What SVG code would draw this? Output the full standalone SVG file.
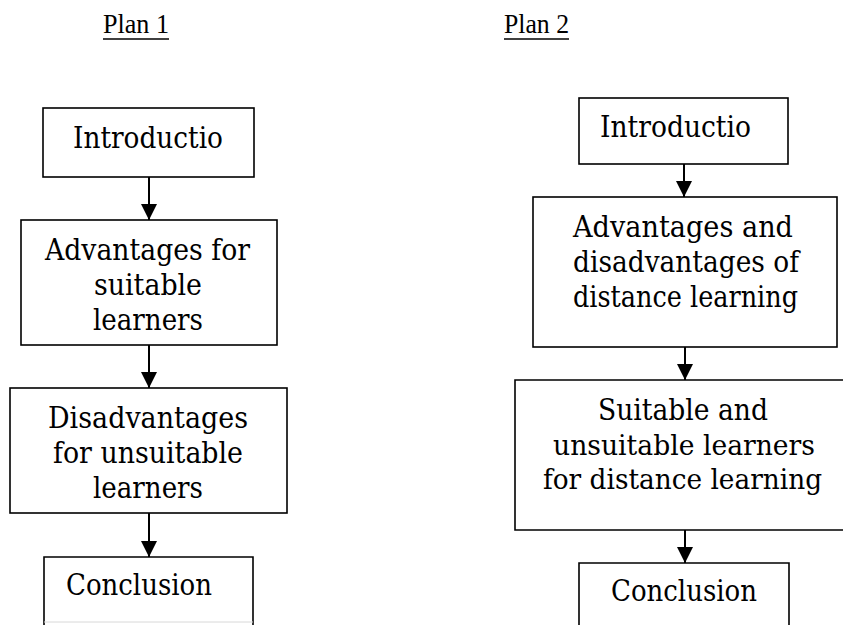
<svg xmlns="http://www.w3.org/2000/svg" width="843" height="625" viewBox="0 0 843 625">
<style>
.box{fill:#fff;stroke:#000;stroke-width:1.6}
.open{fill:none;stroke:#000;stroke-width:1.6}
.t{font-size:30px;fill:#000;text-anchor:middle}
.s{font-size:28px}
.h{font-size:27px;fill:#000}
.c{stroke:#000;stroke-width:2;fill:none;marker-end:url(#ah)}
.u{stroke:#000;stroke-width:1.5}
</style>
<defs>
<marker id="ah" markerUnits="userSpaceOnUse" markerWidth="16" markerHeight="16" viewBox="0 0 16 16" refX="16" refY="8" orient="auto">
<path d="M0,0 L16,8 L0,16 Z" fill="#000"/>
</marker>
</defs>
<rect width="843" height="625" fill="#fff"/>
<g id="headers" font-family="'Liberation Serif', 'Times New Roman', serif">
<text class="h" x="103" y="33" textLength="66" lengthAdjust="spacingAndGlyphs">Plan 1</text>
<line class="u" x1="103" y1="39" x2="169" y2="39"/>
<text class="h" x="504" y="33" textLength="65" lengthAdjust="spacingAndGlyphs">Plan 2</text>
<line class="u" x1="504" y1="39" x2="569" y2="39"/>
</g>
<g id="connectors">
<line class="c" x1="149" y1="177" x2="149" y2="220"/>
<line class="c" x1="149" y1="345" x2="149" y2="388"/>
<line class="c" x1="149" y1="513" x2="149" y2="557"/>
<line class="c" x1="684" y1="164" x2="684" y2="197"/>
<line class="c" x1="685" y1="347" x2="685" y2="380"/>
<line class="c" x1="685" y1="530" x2="685" y2="563"/>
</g>
<g font-family="'DejaVu Serif', 'Liberation Serif', serif">
<g id="p1-intro">
<rect class="box" x="43" y="108" width="211" height="69"/>
<text class="t" x="148" y="148" textLength="150" lengthAdjust="spacingAndGlyphs">Introductio</text>
</g>
<g id="p1-adv">
<rect class="box" x="21" y="220" width="256" height="125"/>
<text class="t" x="147.5" y="260" textLength="205" lengthAdjust="spacingAndGlyphs">Advantages for</text>
<text class="t" x="148" y="295" textLength="108" lengthAdjust="spacingAndGlyphs">suitable</text>
<text class="t" x="148" y="330" textLength="110" lengthAdjust="spacingAndGlyphs">learners</text>
</g>
<g id="p1-disadv">
<rect class="box" x="10" y="388" width="277" height="125"/>
<text class="t" x="148" y="428" textLength="200" lengthAdjust="spacingAndGlyphs">Disadvantages</text>
<text class="t" x="148" y="463" textLength="190" lengthAdjust="spacingAndGlyphs">for unsuitable</text>
<text class="t" x="148" y="498" textLength="110" lengthAdjust="spacingAndGlyphs">learners</text>
</g>
<g id="p1-conc">
<path class="open" d="M44,625 V557 H253 V625"/>
<line x1="44" y1="622" x2="253" y2="622" stroke="#d8d8d8" stroke-width="1"/>
<text class="t" x="139" y="595" textLength="146" lengthAdjust="spacingAndGlyphs">Conclusion</text>
</g>
<g id="p2-intro">
<rect class="box" x="579" y="98" width="209" height="66"/>
<text class="t" x="675.5" y="137" textLength="151" lengthAdjust="spacingAndGlyphs">Introductio</text>
</g>
<g id="p2-advdis">
<rect class="box" x="533" y="197" width="304" height="150"/>
<text class="t" x="683" y="237" textLength="220" lengthAdjust="spacingAndGlyphs">Advantages and</text>
<text class="t" x="686" y="272" textLength="226" lengthAdjust="spacingAndGlyphs">disadvantages of</text>
<text class="t" x="685.5" y="307" textLength="225" lengthAdjust="spacingAndGlyphs">distance learning</text>
</g>
<g id="p2-learners">
<path class="open" d="M843,380 H515 V530 H843"/>
<text class="t" x="683" y="420" textLength="170" lengthAdjust="spacingAndGlyphs">Suitable and</text>
<text class="t s" x="684" y="455" textLength="262" lengthAdjust="spacingAndGlyphs">unsuitable learners</text>
<text class="t s" x="682.5" y="489" textLength="279" lengthAdjust="spacingAndGlyphs">for distance learning</text>
</g>
<g id="p2-conc">
<path class="open" d="M579,625 V563 H789 V625"/>
<text class="t" x="684" y="601" textLength="146" lengthAdjust="spacingAndGlyphs">Conclusion</text>
</g>
</g>
</svg>
